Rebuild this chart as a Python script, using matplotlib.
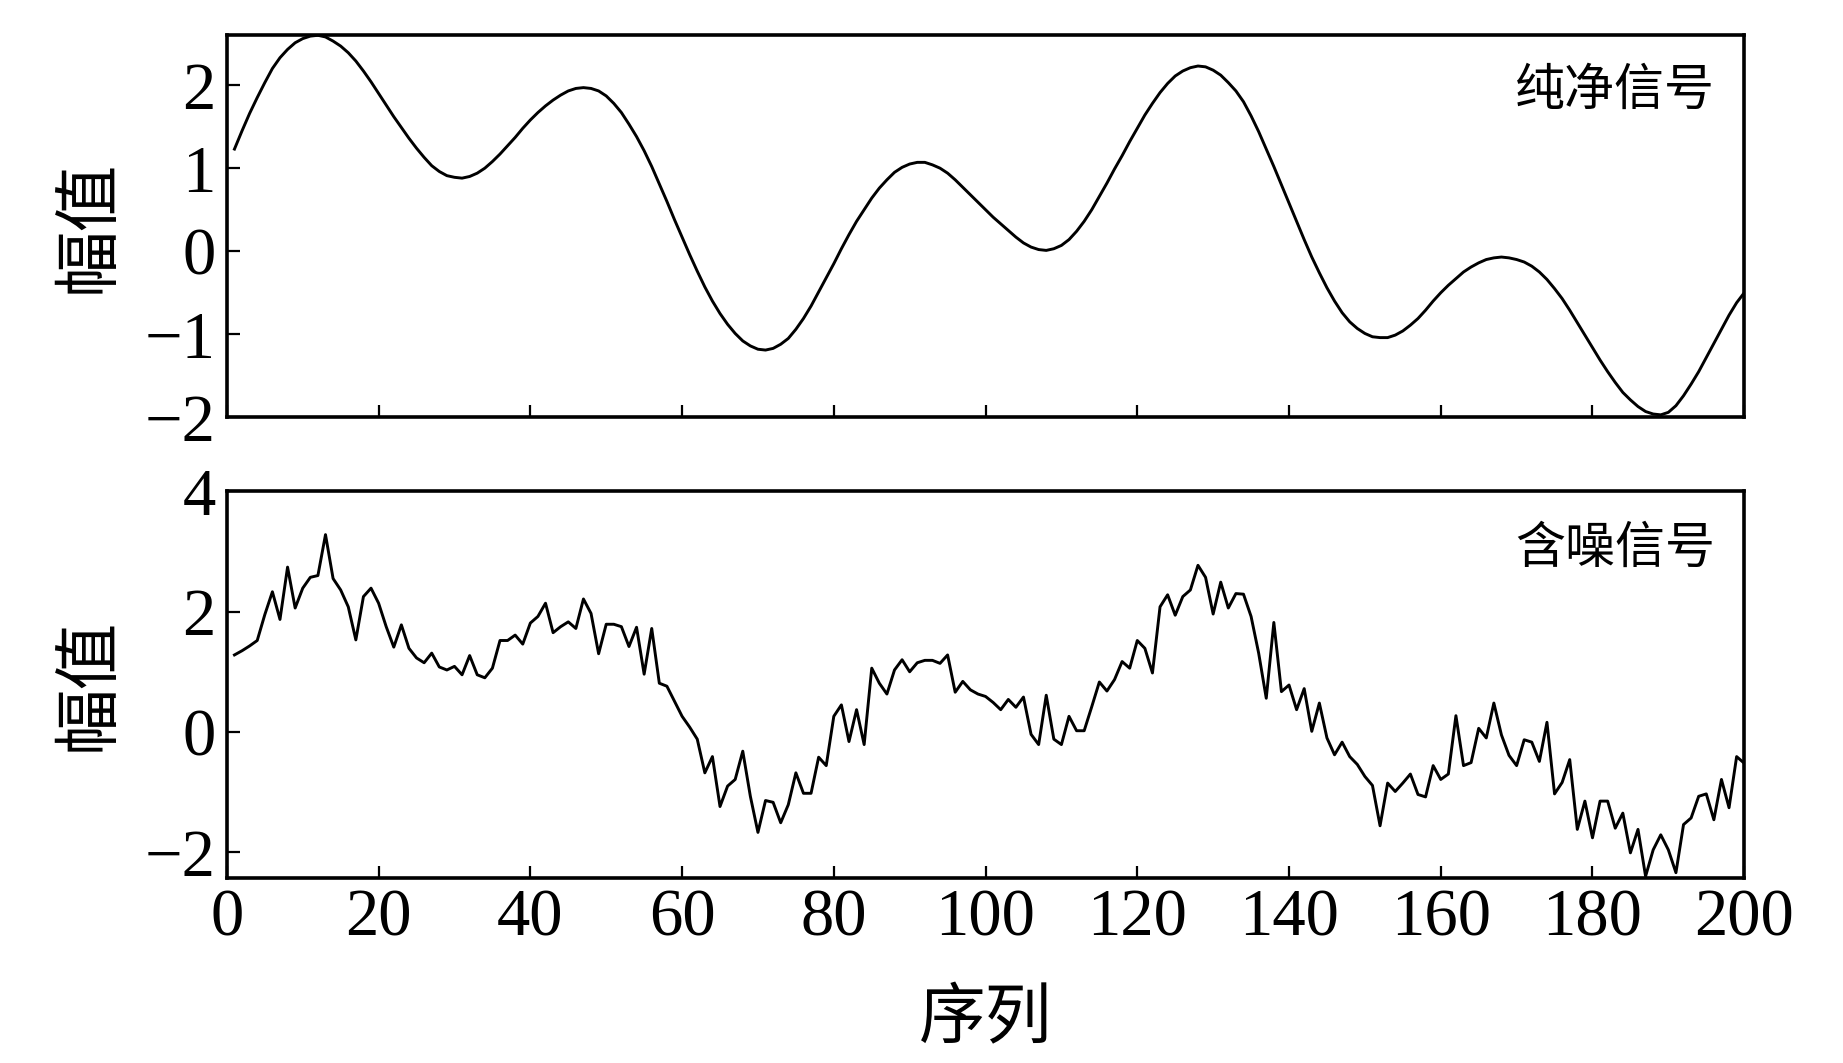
import numpy as np
import matplotlib
matplotlib.use("Agg")
import matplotlib.pyplot as plt

plt.rcParams['font.family'] = ['Liberation Serif', 'Noto Sans CJK SC']
plt.rcParams['axes.unicode_minus'] = True

# -----------------------------
# Data
# -----------------------------
CLEAN_X = list(range(1, 201))
CLEAN_Y = [1.23, 1.45, 1.66, 1.85, 2.03, 2.20, 2.33, 2.43, 2.51, 2.56,
           2.59, 2.60, 2.58, 2.53, 2.47, 2.39, 2.29, 2.17, 2.04, 1.90,
           1.76, 1.62, 1.49, 1.36, 1.24, 1.13, 1.03, 0.96, 0.91, 0.89,
           0.88, 0.90, 0.94, 1.00, 1.08, 1.17, 1.27, 1.37, 1.48, 1.58,
           1.67, 1.75, 1.82, 1.88, 1.93, 1.96, 1.97, 1.96, 1.93, 1.87,
           1.78, 1.67, 1.53, 1.38, 1.21, 1.02, 0.81, 0.60, 0.38, 0.17,
           -0.04, -0.24, -0.43, -0.60, -0.75, -0.88, -0.99, -1.08, -1.14, -1.18,
           -1.19, -1.17, -1.12, -1.05, -0.94, -0.81, -0.66, -0.49, -0.32, -0.15,
           0.03, 0.20, 0.36, 0.50, 0.64, 0.76, 0.86, 0.95, 1.01, 1.05,
           1.07, 1.07, 1.04, 1.00, 0.94, 0.86, 0.77, 0.68, 0.59, 0.50,
           0.41, 0.33, 0.25, 0.17, 0.10, 0.05, 0.02, 0.01, 0.03, 0.07,
           0.14, 0.24, 0.36, 0.50, 0.66, 0.82, 0.99, 1.15, 1.32, 1.48,
           1.64, 1.78, 1.91, 2.02, 2.11, 2.17, 2.21, 2.23, 2.22, 2.18,
           2.12, 2.03, 1.93, 1.80, 1.63, 1.44, 1.23, 1.02, 0.80, 0.58,
           0.36, 0.14, -0.07, -0.26, -0.44, -0.60, -0.74, -0.85, -0.93, -0.99,
           -1.03, -1.04, -1.04, -1.01, -0.96, -0.89, -0.81, -0.71, -0.60, -0.50,
           -0.41, -0.33, -0.25, -0.19, -0.14, -0.10, -0.08, -0.07, -0.08, -0.10,
           -0.13, -0.18, -0.25, -0.34, -0.45, -0.57, -0.71, -0.86, -1.01, -1.16,
           -1.31, -1.45, -1.58, -1.70, -1.79, -1.87, -1.93, -1.96, -1.97, -1.94,
           -1.86, -1.74, -1.60, -1.45, -1.28, -1.11, -0.94, -0.77, -0.62, -0.50]

NOISY_X = list(range(1, 201))
NOISY_Y = [1.28, 1.35, 1.43, 1.52, 1.95, 2.33, 1.87, 2.74, 2.06, 2.39,
           2.57, 2.60, 3.28, 2.55, 2.36, 2.08, 1.53, 2.25, 2.39, 2.14,
           1.75, 1.41, 1.78, 1.39, 1.23, 1.15, 1.31, 1.08, 1.03, 1.09,
           0.95, 1.27, 0.95, 0.90, 1.06, 1.52, 1.52, 1.61, 1.46, 1.81,
           1.92, 2.14, 1.65, 1.75, 1.83, 1.72, 2.21, 1.97, 1.30, 1.79,
           1.79, 1.75, 1.42, 1.74, 0.96, 1.72, 0.81, 0.76, 0.51, 0.26,
           0.08, -0.12, -0.68, -0.41, -1.24, -0.90, -0.79, -0.32, -1.07, -1.67,
           -1.14, -1.17, -1.51, -1.21, -0.68, -1.02, -1.02, -0.42, -0.56, 0.26,
           0.45, -0.16, 0.37, -0.21, 1.06, 0.81, 0.63, 1.03, 1.20, 1.00,
           1.15, 1.19, 1.19, 1.14, 1.28, 0.66, 0.84, 0.70, 0.63, 0.59,
           0.49, 0.37, 0.54, 0.41, 0.58, -0.04, -0.21, 0.61, -0.12, -0.21,
           0.26, 0.02, 0.02, 0.42, 0.83, 0.68, 0.87, 1.17, 1.06, 1.52,
           1.39, 0.98, 2.08, 2.28, 1.94, 2.25, 2.36, 2.77, 2.57, 1.96,
           2.49, 2.06, 2.30, 2.29, 1.92, 1.31, 0.56, 1.82, 0.67, 0.78,
           0.37, 0.72, 0.01, 0.48, -0.10, -0.38, -0.17, -0.41, -0.54, -0.74,
           -0.89, -1.56, -0.85, -0.99, -0.85, -0.70, -1.04, -1.08, -0.56, -0.79,
           -0.70, 0.27, -0.56, -0.51, 0.06, -0.10, 0.48, -0.05, -0.39, -0.56,
           -0.13, -0.17, -0.49, 0.16, -1.03, -0.84, -0.46, -1.62, -1.15, -1.76,
           -1.15, -1.15, -1.60, -1.35, -2.01, -1.62, -2.40, -1.96, -1.71, -1.96,
           -2.34, -1.54, -1.43, -1.07, -1.03, -1.46, -0.79, -1.26, -0.41, -0.52]

X_TICKS = [0, 20, 40, 60, 80, 100, 120, 140, 160, 180, 200]
TOP_YTICKS = [-2, -1, 0, 1, 2]
BOT_YTICKS = [-2, 0, 2, 4]

CJK = ['Noto Sans CJK SC']
TICK_SIZE = 48
CJK_SIZE = 48


def style_axes(ax):
    for s in ax.spines.values():
        s.set_linewidth(2.6)
        s.set_color('black')
    ax.tick_params(direction='in', length=9, width=1.6, labelsize=TICK_SIZE,
                   top=False, right=False, pad=8)
    ax.set_xlim(0, 200)
    ax.set_xticks(X_TICKS)


fig = plt.figure(figsize=(18.43, 10.63), dpi=100)
ax1 = fig.add_axes([0.1231, 0.6074, 0.8233, 0.3594])
ax2 = fig.add_axes([0.1231, 0.1745, 0.8233, 0.3633])

# top: clean signal
ax1.plot(CLEAN_X, CLEAN_Y, color='black', lw=2.1, solid_joinstyle='round')
style_axes(ax1)
ax1.set_ylim(-2, 2.6)
ax1.set_yticks(TOP_YTICKS)
ax1.set_xticklabels([])
ax1.text(0.981, 0.855, '纯净信号', transform=ax1.transAxes, ha='right', va='center',
         fontsize=36, family=CJK)
ax1.set_ylabel('幅值', family=CJK, fontsize=CJK_SIZE, labelpad=16)

# bottom: noisy signal
ax2.plot(NOISY_X, NOISY_Y, color='black', lw=2.1, solid_joinstyle='round')
style_axes(ax2)
ax2.set_ylim(-2.42, 4)
ax2.set_yticks(BOT_YTICKS)
ax2.text(0.981, 0.851, '含噪信号', transform=ax2.transAxes, ha='right', va='center',
         fontsize=36, family=CJK)
ax2.set_ylabel('幅值', family=CJK, fontsize=CJK_SIZE, labelpad=16)
ax2.set_xlabel('序列', family=CJK, fontsize=CJK_SIZE, labelpad=26)

# line up both y labels
fig.align_ylabels([ax1, ax2])

fig.savefig('out.png', dpi=100)
